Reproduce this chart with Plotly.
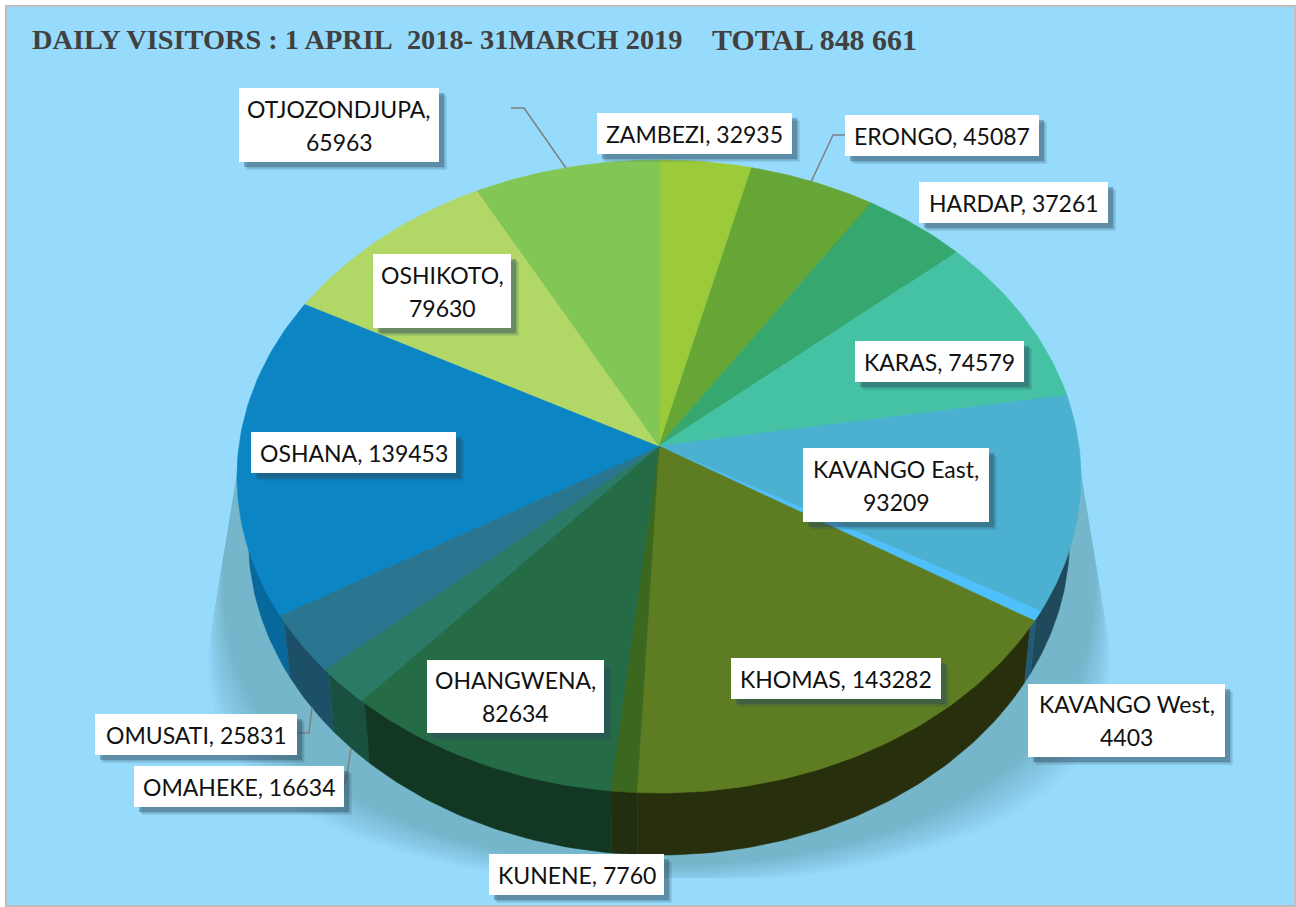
import numpy as np
import plotly.graph_objects as go

# ---- data ----
regions = ["ZAMBEZI", "ERONGO", "HARDAP", "KARAS", "KAVANGO East", "KAVANGO West", "KHOMAS",
           "KUNENE", "OHANGWENA", "OMAHEKE", "OMUSATI", "OSHANA", "OSHIKOTO", "OTJOZONDJUPA"]
visitors = [32935, 45087, 37261, 74579, 93209, 4403, 143282,
            7760, 82634, 16634, 25831, 139453, 79630, 65963]
top_colors = ["#9BCB3A", "#66A636", "#36A76F", "#44C2A3", "#4CB1D0", "#4FC0FB", "#5E7D22",
              "#3C671F", "#256B46", "#2A7A66", "#2A7590", "#0B85C4", "#B1D767", "#82C655"]
side_colors = ["#5E7D22", "#3E6620", "#206644", "#297563", "#1F4A5C", "#235A78", "#282F0C",
               "#222E10", "#123824", "#1A5040", "#1B5068", "#07689B", "#6C8440", "#4F7A34"]
title_left = "DAILY VISITORS : 1 APRIL\u00a0\u00a02018- 31MARCH 2019"
title_right = "TOTAL 848 661"

# ---- layout: label boxes (x0, x1, y0, y1) and how each label wraps ----
boxes = [(597, 792, 113, 154), (845, 1039, 115, 156), (919, 1108, 182, 223), (855, 1024, 341, 382),
         (803, 989, 448, 522), (1028, 1225, 684, 757), (731, 941, 658, 699), (489, 664, 854, 895),
         (427, 604, 660, 733), (134, 344, 766, 807), (95, 297, 714, 755), (251, 456, 432, 473),
         (373, 511, 254, 328), (239, 439, 88, 162)]
two_line = {"KAVANGO East", "KAVANGO West", "OHANGWENA", "OSHIKOTO", "OTJOZONDJUPA"}
leaders = [([511, 524, 566], [108, 108, 168]), ([845, 833, 811], [135, 135, 182]),
           ([297, 309, 312], [733, 733, 707]), ([345, 351], [785, 749])]

# ---- pie geometry (perspective disc) ----
CX, CY, RX, RY, K = 659.0, 446.0, 420.0, 313.6, 0.0964
DEPTH, TAPER = 62.0, 0.973


def project(theta):
    u, v = np.sin(theta), np.cos(theta)
    d = 1 + K * v
    return CX + RX * u / d, CY - RY * v / d


fig = go.Figure()


def poly(xs, ys, color, width=0.6):
    fig.add_trace(go.Scatter(x=list(xs), y=list(ys), mode="lines", fill="toself", fillcolor=color,
                             line=dict(color=color, width=width), hoverinfo="skip", showlegend=False))


# soft cast shadow
N = 16
for k in range(N):
    t = k / (N - 1)
    ym = 560 + 90 * t
    half = 414 + 37 * (ym - 425) / 225
    bottom = 866 + 19 * t
    a = np.linspace(0, np.pi, 100)
    sx = CX - half * np.cos(a)
    sy = np.minimum(ym + (bottom - ym) * np.sin(a) ** 0.75, 878)
    poly(np.r_[CX - 414, sx, CX + 414], np.r_[425, sy, 425], "rgba(70,90,90,0.02)", width=0)

total = sum(visitors)
edges = 2 * np.pi * np.r_[0, np.cumsum(visitors)] / total
arcs = []
for i in range(len(visitors)):
    n = max(4, int((edges[i + 1] - edges[i]) * 60))
    x, y = project(np.linspace(edges[i], edges[i + 1], n))
    arcs.append((x, y))

# sides, back to front (upper rim pulled slightly inside the face so it never fringes)
order = sorted(range(len(arcs)), key=lambda i: arcs[i][1].mean())
for i in order:
    x, y = arcs[i]
    xb = CX + (x - CX) * TAPER
    yb = y + DEPTH
    xt = CX + (x - CX) * 0.99
    yt = CY + (y - CY) * 0.99
    poly(np.r_[xt, xb[::-1]], np.r_[yt, yb[::-1]], side_colors[i])

# top faces
for i, (x, y) in enumerate(arcs):
    poly(np.r_[CX, x, CX], np.r_[CY, y, CY], top_colors[i])

shapes = []
annotations = []

for xs, ys in leaders:
    path = "M " + " L ".join(f"{a},{b}" for a, b in zip(xs, ys))
    shapes.append(dict(type="path", path=path, line=dict(color="#7F7F7F", width=1.5), layer="above"))

for name, val, (x0, x1, y0, y1) in zip(regions, visitors, boxes):
    for off, alpha in ((8, 0.12), (6.5, 0.2), (5, 0.35)):
        shapes.append(dict(type="rect", x0=x0 + off, x1=x1 + off, y0=y0 + off, y1=y1 + off,
                           fillcolor=f"rgba(45,75,95,{alpha})", line=dict(width=0), layer="above"))
    shapes.append(dict(type="rect", x0=x0, x1=x1, y0=y0, y1=y1, fillcolor="white",
                       line=dict(width=0), layer="above"))
    xm, ym = (x0 + x1) / 2, (y0 + y1) / 2
    if name in two_line:
        lines = [(f"{name},", ym - 16.5), (f"{val}", ym + 16.5)]
    else:
        lines = [(f"{name}, {val}", ym)]
    for txt, yy in lines:
        annotations.append(dict(x=xm, y=yy, text=txt, showarrow=False, xanchor="center", yanchor="middle",
                                font=dict(family="Lato", size=23, color="#111111")))

annotations.append(dict(x=30, y=39, text=title_left, showarrow=False, xanchor="left", yanchor="middle",
                        font=dict(family="Liberation Serif", size=28.35, color="#404040", weight="bold")))
annotations.append(dict(x=710, y=39, text=title_right, showarrow=False, xanchor="left", yanchor="middle",
                        font=dict(family="Liberation Serif", size=29.9, color="#404040", weight="bold")))

# panel background, behind traces
shapes.insert(0, dict(type="rect", x0=6, x1=1295, y0=6, y1=906, fillcolor="#96DBFB",
                      line=dict(color="#BFBFBF", width=2), layer="below"))

fig.update_layout(
    width=1296, height=907, margin=dict(l=0, r=0, t=0, b=0),
    paper_bgcolor="white", plot_bgcolor="white", showlegend=False,
    xaxis=dict(range=[0, 1296], visible=False, fixedrange=True),
    yaxis=dict(range=[907, 0], visible=False, fixedrange=True),
    shapes=shapes, annotations=annotations,
)
fig.write_html("out.html", config=dict(displayModeBar=False),
               post_script="document.body.style.margin='0';document.body.style.overflow='hidden';")
